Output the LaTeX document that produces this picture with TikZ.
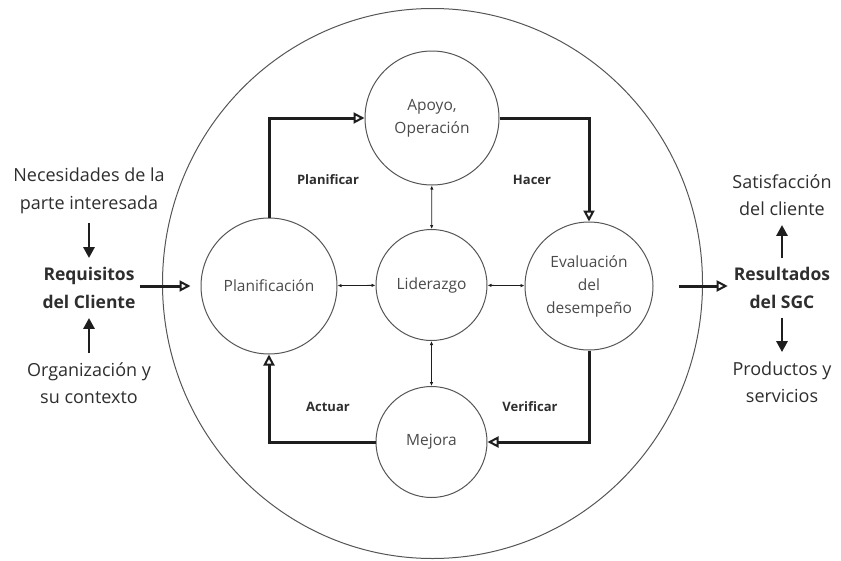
\documentclass[tikz,border=0pt]{standalone}
\usepackage{fontspec}
\setmainfont{Open Sans}
\usetikzlibrary{arrows.meta,shapes.geometric}
\definecolor{ink}{HTML}{1E1E1E}
\definecolor{txt}{HTML}{2E2E2E}
\definecolor{soft}{HTML}{4A4A4A}
\definecolor{rim}{HTML}{555555}
\tikzset{
  stage/.style={circle,draw=rim,line width=1pt,inner sep=0pt,text=soft,align=center,
    font=\fontsize{15.5}{23}\selectfont},
  sidetext/.style={inner sep=0pt,align=center,text=txt,font=\fontsize{18}{27.5}\selectfont},
  sidebold/.style={inner sep=0pt,align=center,text=txt,font=\fontsize{17.5}{28}\selectfont\bfseries},
  phase/.style={inner sep=0pt,text=txt,font=\fontsize{13}{15}\selectfont\bfseries},
  flow/.style={draw=ink,line width=3pt,-{Triangle[open,length=11pt,width=11pt,line width=2pt]}},
  push/.style={draw=ink,line width=2.8pt,-{Triangle[length=11pt,width=11pt]}},
  link/.style={draw=ink,line width=0.8pt,{Latex[length=4pt,width=3.5pt]}-{Latex[length=4pt,width=3.5pt]}}
}
\begin{document}
\begin{tikzpicture}[x=1pt,y=-1pt]
\useasboundingbox (0,0) rectangle (841,560);

% outer boundary
\node[ellipse,draw=rim,line width=1pt,minimum width=540pt,minimum height=550pt,inner sep=0pt] (outer) at (432.5,283.5) {};

% process stages
\node[stage,minimum size=136pt] (plan) at (269,286) {Planificación};
\node[stage,minimum size=134pt] (apoyo) at (432,118) {Apoyo,\\Operación};
\node[stage,minimum size=111pt] (lider) at (431.5,285) {Liderazgo};
\node[stage,minimum size=128pt] (eval) at (589,286) {Evaluación\\del\\desempeño};
\node[stage,minimum size=111pt] (mejora) at (431.5,442) {Mejora};

% cycle labels
\node[phase] (lplan) at (328,180) {Planificar};
\node[phase] (lhacer) at (532,180) {Hacer};
\node[phase] (lact) at (328,407) {Actuar};
\node[phase] (lver) at (530,407) {Verificar};

% cycle connectors
\draw[flow] (plan.north) |- (apoyo.west);
\draw[flow] (apoyo.east) -| (eval.north);
\draw[flow] (eval.south) |- (mejora.east);
\draw[flow] (mejora.west) -| (plan.south);

% leadership links
\draw[link] (plan) -- (lider);
\draw[link] (lider) -- (eval);
\draw[link] (apoyo) -- (lider);
\draw[link] (lider) -- (mejora);

% inputs
\node[sidetext] (nec) at (89,191) {Necesidades de la\\parte interesada};
\node[sidebold] (req) at (89,288) {Requisitos\\del Cliente};
\node[sidetext] (org) at (89,383) {Organización y\\su contexto};
\draw[push,shorten <=9pt,shorten >=9pt] (nec) -- (req);
\draw[push,shorten <=9pt,shorten >=9pt] (org) -- (req);
\draw[flow,shorten <=4pt,shorten >=10pt] (req.east |- plan) -- (plan);

% outputs
\node[sidebold] (res) at (782,288) {Resultados\\del SGC};
\node[sidetext] (sat) at (782,195) {Satisfacción\\del cliente};
\node[sidetext] (prod) at (782,382) {Productos y\\servicios};
\draw[flow,shorten <=25pt,shorten >=6pt] (eval) -- (res.west |- eval);
\draw[push,shorten <=9pt,shorten >=9pt] (res) -- (sat);
\draw[push,shorten <=9pt,shorten >=9pt] (res) -- (prod);
\end{tikzpicture}
\end{document}
